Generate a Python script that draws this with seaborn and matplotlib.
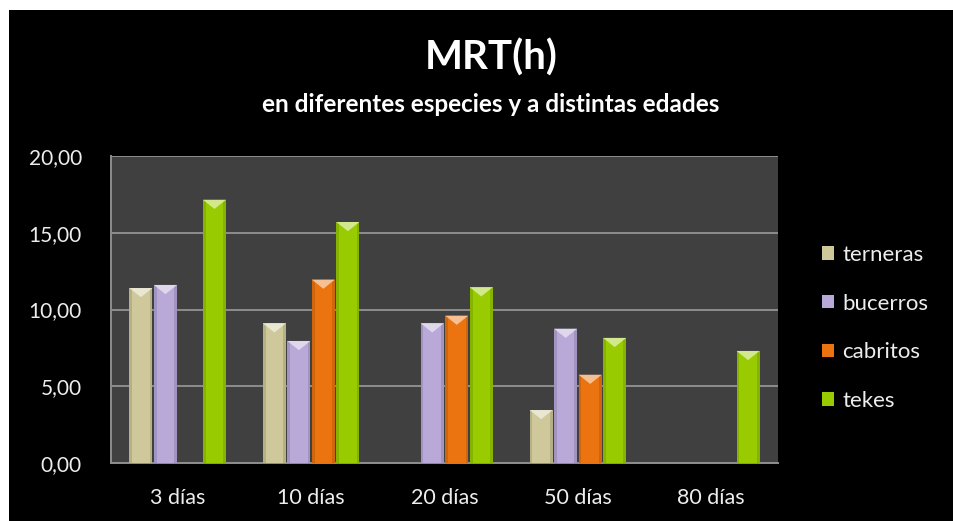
import matplotlib
matplotlib.use("Agg")
import matplotlib.pyplot as plt
from matplotlib.patches import Rectangle, Polygon
from matplotlib.ticker import FuncFormatter
import numpy as np
import pandas as pd
import seaborn as sns

# MRT (h) by age and species
edades = ["3 días", "10 días", "20 días", "50 días", "80 días"]
especies = ["terneras", "bucerros", "cabritos", "tekes"]
terneras = [11.4, 9.1, np.nan, 3.45, np.nan]
bucerros = [11.6, 7.95, 9.1, 8.75, np.nan]
cabritos = [np.nan, 11.95, 9.6, 5.75, np.nan]
tekes = [17.15, 15.7, 11.45, 8.15, 7.3]
colores = ["#CFC89A", "#B8A9D8", "#EC7410", "#99CC00"]
yticks = [0, 5, 10, 15, 20]

series = {"terneras": terneras, "bucerros": bucerros,
          "cabritos": cabritos, "tekes": tekes}
df = pd.DataFrame(
    [(e, s, v) for s in especies for e, v in zip(edades, series[s])],
    columns=["edad", "especie", "mrt"],
)

sns.set_theme(style="dark")
plt.rcParams["font.family"] = ["Lato", "DejaVu Sans"]

fig = plt.figure(figsize=(9.54, 5.21), dpi=100, facecolor="white")
# black panel behind the whole chart
fig.patches.append(Rectangle((9 / 954, 0), 1, 1 - 10 / 521,
                             transform=fig.transFigure, facecolor="black",
                             edgecolor="none", zorder=-10))

ax = fig.add_axes([111 / 954, 1 - 463 / 521, 667 / 954, 307 / 521])
ax.set_facecolor("#404040")

sns.barplot(data=df, x="edad", y="mrt", hue="especie", order=edades,
            hue_order=especies, palette=colores, width=0.735, gap=0.06,
            saturation=1, ax=ax, legend=True, zorder=3, linewidth=0)

# bevel highlight on top of each bar, shaded edges along the sides
depth = 0.6
for patch in ax.patches:
    h = patch.get_height()
    if not np.isfinite(h) or h <= 0:
        continue
    x0 = patch.get_x()
    w = patch.get_width()
    fc = np.array(patch.get_facecolor()[:3])
    light = fc + (1 - fc) * 0.55
    dark = fc * 0.8
    ax.add_patch(Rectangle((x0, 0), w * 0.12, h, facecolor=dark,
                           edgecolor="none", zorder=4, alpha=0.6))
    ax.add_patch(Rectangle((x0 + w * 0.88, 0), w * 0.12, h, facecolor=dark,
                           edgecolor="none", zorder=4, alpha=0.6))
    ax.add_patch(Polygon([(x0, h), (x0 + w, h), (x0 + w / 2, h - depth)],
                         closed=True, facecolor=light, edgecolor="none",
                         zorder=5))

ax.set_ylim(0, 20)
ax.set_xlim(-0.5, 4.5)
ax.set_yticks(yticks)
ax.yaxis.set_major_formatter(FuncFormatter(lambda v, p: f"{v:.2f}".replace(".", ",")))
ax.grid(axis="y", color="#8E8E8E", linewidth=1.4, zorder=1)
ax.grid(axis="x", visible=False)
ax.set_axisbelow(True)
ax.set_xlabel("")
ax.set_ylabel("")
for side in ["top", "right"]:
    ax.spines[side].set_visible(False)
for side in ["left", "bottom"]:
    ax.spines[side].set_visible(True)
    ax.spines[side].set_color("#8E8E8E")
    ax.spines[side].set_linewidth(1.4)
ax.tick_params(axis="y", colors="#EDEDED", labelsize=15, pad=21, length=0)
ax.tick_params(axis="x", colors="#EDEDED", labelsize=15.5, pad=18, length=0)

leg = ax.legend(loc="center left", bbox_to_anchor=(1.066, 0.44), frameon=False,
                fontsize=16, labelcolor="#EDEDED", handlelength=0.55,
                handleheight=0.55, handletextpad=0.35, labelspacing=1.29,
                borderaxespad=0, borderpad=0)

fig.text(491 / 954, 1 - 70 / 521, "MRT(h)", ha="center", va="baseline",
         fontsize=29, fontweight="bold", color="white")
fig.text(491 / 954, 1 - 112 / 521, "en diferentes especies y a distintas edades",
         ha="center", va="baseline", fontsize=17.5, fontweight="bold", color="white")

fig.savefig("out.png", dpi=100, facecolor=fig.get_facecolor())
